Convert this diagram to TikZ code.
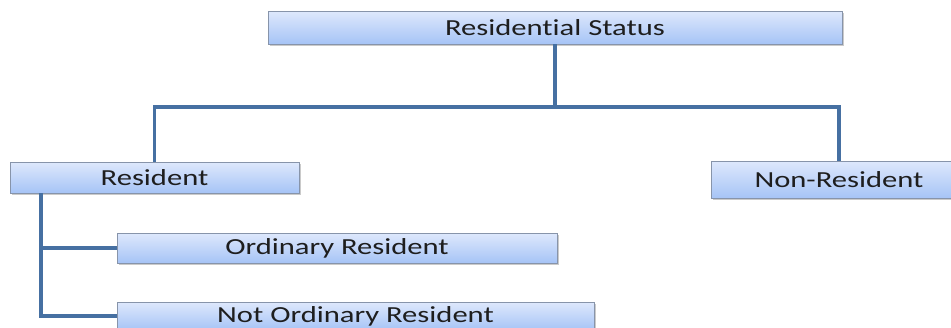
\documentclass[tikz,border=0pt]{standalone}
\usepackage{fontspec}
\setmainfont[FakeStretch=1.33,Ligatures=NoCommon]{Carlito}
\usetikzlibrary{shadows}
\definecolor{boxtop}{RGB}{222,232,252}
\definecolor{boxbot}{RGB}{166,196,246}
\definecolor{boxline}{RGB}{135,148,170}
\definecolor{connc}{RGB}{70,112,162}
\definecolor{txt}{RGB}{30,30,30}
\tikzset{
  box/.style={draw=boxline, line width=0.8pt, top color=boxtop, bottom color=boxbot,
    inner sep=0pt, text=txt, font=\fontsize{23}{26}\selectfont,
    drop shadow={shadow xshift=1.5pt, shadow yshift=-1.5pt, opacity=0.35, fill=black!60}},
  conn/.style={draw=connc, line width=3.2pt, line join=miter}
}
\begin{document}
\begin{tikzpicture}[x=1pt,y=-1pt]
\useasboundingbox (0,0) rectangle (951,327);
\node[box, minimum width=574pt, minimum height=33pt] (top) at (555,27.5) {Residential Status};
\node[box, minimum width=289pt, minimum height=31pt] (res) at (154.5,177.5) {Resident};
\node[box, minimum width=256pt, minimum height=37pt] (nonres) at (839,179.5) {Non-Resident};
\node[box, minimum width=440pt, minimum height=30pt] (ord) at (337,248) {Ordinary Resident};
\node[box, minimum width=477pt, minimum height=28pt] (nord) at (355.5,316) {Not Ordinary Resident};
\coordinate (j) at (555,107);
\coordinate (rv) at (41,193);
\draw[conn] (top.south) -- (j);
\draw[conn] (j) -| (res.north);
\draw[conn] (j) -| (nonres.north);
\draw[conn] (rv) |- (nord.west);
\draw[conn] (rv |- ord.west) -- (ord.west);
\end{tikzpicture}
\end{document}
